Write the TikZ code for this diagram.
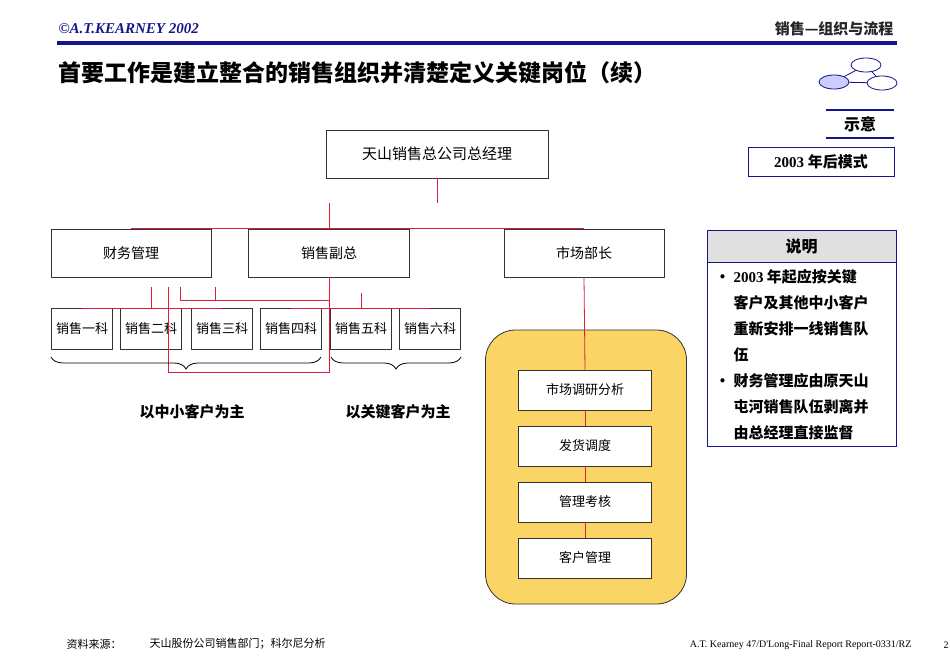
\documentclass[tikz,border=0pt]{standalone}
\usepackage{fontspec}
\setmainfont{Liberation Serif}
\newfontfamily\cjk{Noto Sans CJK SC}
\newfontfamily\tms{Liberation Serif}
\usetikzlibrary{decorations.pathreplacing}
\definecolor{navy}{RGB}{20,20,140}
\definecolor{redl}{RGB}{220,30,60}
\definecolor{yel}{RGB}{250,212,100}
\begin{document}
\begin{tikzpicture}[x=1pt,y=-1pt,
  box/.style={draw=black!80,thick,fill=white,inner sep=0pt,font=\cjk\fontsize{14}{16}\selectfont},
  sbox/.style={box,font=\cjk\fontsize{13}{15}\selectfont},
  link/.style={draw=redl,line width=0.8pt}]
\useasboundingbox (0,0) rectangle (950,658);
% header
\node[anchor=west,text=navy,font=\tms\bfseries\itshape\fontsize{15}{17}\selectfont] (hd) at (55,29) {©A.T.KEARNEY 2002};
\node[anchor=east,font=\cjk\bfseries\fontsize{15}{17}\selectfont,text=black!85] (hr) at (897,29) {销售—组织与流程};
\draw[navy,line width=3.5pt] (57,43) -- (897,43);
\node[anchor=west,font=\cjk\bfseries\fontsize{23}{26}\selectfont] (title) at (55,73) {首要工作是建立整合的销售组织并清楚定义关键岗位（续）};
% icon
\draw[navy,thick] (866,65) -- (834,82) -- (882,83) -- cycle;
\draw[navy,thick,fill=white] (866,65) ellipse (15 and 7);
\draw[navy,thick,fill=blue!20] (834,82) ellipse (15 and 7);
\draw[navy,thick,fill=white] (882,83) ellipse (15 and 7);
\draw[navy,line width=2pt] (826,110) -- (894,110);
\node[font=\cjk\bfseries\fontsize{16}{18}\selectfont] (sy) at (860,124) {示意};
\draw[navy,line width=2pt] (826,138) -- (894,138);
\node[draw=navy,thick,minimum width=146pt,minimum height=29pt,inner sep=0pt,font=\tms\bfseries\fontsize{15}{17}\selectfont] (mode) at (821,162) {2003 {\cjk 年后模式}};
% org boxes
\node[box,minimum width=222pt,minimum height=48pt,font=\cjk\fontsize{15}{17}\selectfont] (gm) at (437,154) {天山销售总公司总经理};
\node[box,minimum width=160pt,minimum height=48pt] (cw) at (131,253) {财务管理};
\node[box,minimum width=161pt,minimum height=48pt] (fz) at (329,253) {销售副总};
\node[box,minimum width=160pt,minimum height=48pt] (sc) at (584,253) {市场部长};
\foreach \n/\x/\t in {k1/82/销售一科,k2/151/销售二科,k3/222/销售三科,k4/291/销售四科,k5/361/销售五科,k6/430/销售六科}
  \node[sbox,minimum width=61pt,minimum height=41pt] (\n) at (\x,329) {\t};
\draw[link] (gm.south) -- (437,203);
\draw[link] (cw.north) |- (sc.north);
\draw[link] (fz.north) -- (329,203);
% messy links
\draw[link] (fz.south) -- (329,372) -- (168,372) -- (168,287);
\draw[link] (k1.north) |- (k3.north) ;
\draw[link] (k2.north) -- (151,287);
\draw[link] (180,287) |- (329,300);
\draw[link] (215,287) -- (215,300);
\draw[link] (k4.north) |- (k6.north);
\draw[link] (k5.north) -- (361,293);
% braces
\draw[thick,decorate,decoration={brace,mirror,amplitude=12pt,aspect=0.5}] (51,357) -- (321,357);
\draw[thick,decorate,decoration={brace,mirror,amplitude=12pt}] (331,357) -- (461,357);
\node[font=\cjk\bfseries\fontsize{15}{17}\selectfont] (l1) at (192,412) {以中小客户为主};
\node[font=\cjk\bfseries\fontsize{15}{17}\selectfont] (l2) at (398,412) {以关键客户为主};
% market
\node[draw=black!80,thick,fill=yel,rounded corners=30pt,minimum width=201pt,minimum height=274pt] (yb) at (586,467) {};
\foreach \n/\y/\t in {m1/390/市场调研分析,m2/446/发货调度 / 生产协调,m3/502/管理考核 / 销售统计,m4/558/客户管理 / 技术服务}
  \node[sbox,minimum width=133pt,minimum height=40pt] (\n) at (585,\y) {\t};
\draw[link] (sc.south) -- (m1.north);
\draw[link] (m1) -- (m2); \draw[link] (m2) -- (m3); \draw[link] (m3) -- (m4);
% note
\node[draw=navy,fill=black!12,minimum width=189pt,minimum height=32pt,inner sep=0pt,font=\cjk\bfseries\fontsize{16}{18}\selectfont] (nh) at (801.5,246) {说明};
\draw[navy,thick] (707,262) rectangle (896,446);
\begin{scope}
\clip (707,262) rectangle (896,446);
\node[anchor=north west,align=left,font=\cjk\bfseries\fontsize{15}{26}\selectfont] (nt) at (708,266) {%
\makebox[22pt][c]{•}{\tms 2003} 年起应按关键\\
\hspace*{22pt}客户及其他中小客户\\
\hspace*{22pt}重新安排一线销售队\\
\hspace*{22pt}伍\\
\makebox[22pt][c]{•}财务管理应由原天山\\
\hspace*{22pt}屯河销售队伍剥离并\\
\hspace*{22pt}由总经理直接监督};
\end{scope}
% footer
\node[anchor=west,font=\cjk\fontsize{11}{13}\selectfont] (f1) at (63,644) {资料来源：};
\node[anchor=west,font=\cjk\fontsize{11}{13}\selectfont] (f2) at (146,644) {天山股份公司销售部门；科尔尼分析};
\node[anchor=east,font=\tms\fontsize{10}{12}\selectfont] (f3) at (915,645) {A.T. Kearney 47/D'Long-Final Report Report-0331/RZ};
\node[font=\tms\fontsize{10}{12}\selectfont] (f4) at (946,645) {2};
\end{tikzpicture}
\end{document}
